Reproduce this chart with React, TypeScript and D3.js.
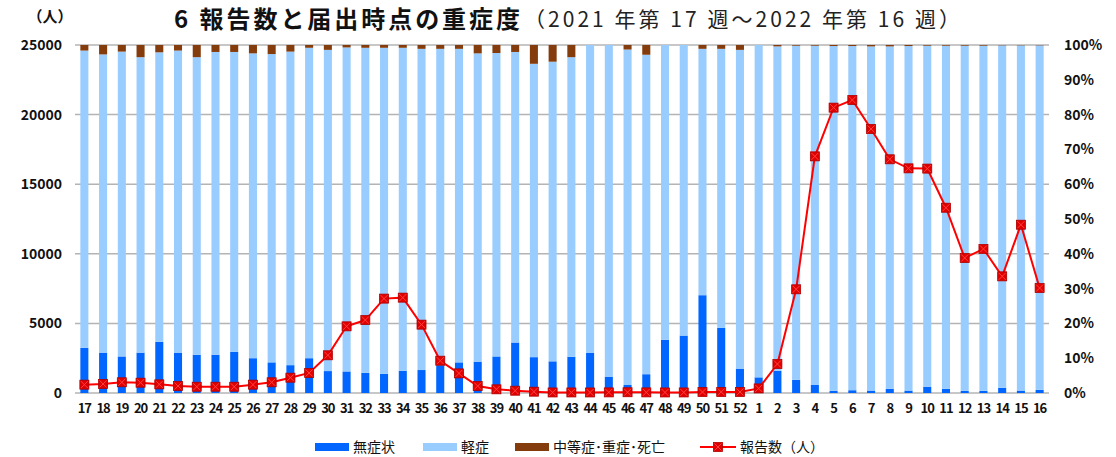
import React from 'react'
import * as d3 from 'd3'

// 週ラベル (2021年第17週〜2022年第16週)
const weeks = [
  '17', '18', '19', '20', '21', '22', '23', '24', '25', '26', '27', '28', '29', '30', '31', '32', '33', '34',
  '35', '36', '37', '38', '39', '40', '41', '42', '43', '44', '45', '46', '47', '48', '49', '50', '51', '52',
  '1', '2', '3', '4', '5', '6', '7', '8', '9', '10', '11', '12', '13', '14', '15', '16',
]

// 割合 (%)
const asymptomatic = [
  13.0, 11.6, 10.5, 11.6, 14.7, 11.6, 11.0, 11.0, 11.8, 10.0, 8.8, 8.0, 10.0, 6.3, 6.2, 5.8, 5.5, 6.4,
  6.6, 8.0, 8.8, 9.0, 10.5, 14.5, 10.3, 9.1, 10.4, 11.5, 4.7, 2.3, 5.4, 15.3, 16.5, 28.1, 18.7, 7.0,
  4.5, 6.4, 3.8, 2.3, 0.6, 0.8, 0.7, 1.2, 0.7, 1.8, 1.2, 0.6, 0.6, 1.5, 0.7, 0.9,
]
const mild = [
  85.4, 85.7, 87.6, 84.9, 83.2, 86.8, 85.5, 87.0, 86.2, 87.6, 88.6, 90.1, 89.2, 92.3, 93.1, 93.4, 93.7, 92.8,
  92.3, 90.9, 90.1, 88.6, 87.2, 83.5, 84.3, 86.1, 86.1, 88.5, 95.3, 96.4, 91.8, 84.7, 83.5, 70.8, 80.2, 91.6,
  95.5, 93.2, 96.0, 97.5, 99.1, 98.9, 98.9, 98.4, 99.0, 98.0, 98.6, 99.2, 99.2, 98.4, 99.2, 99.0,
]
const severe = [
  1.6, 2.7, 1.9, 3.5, 2.1, 1.6, 3.5, 2.0, 2.0, 2.4, 2.6, 1.9, 0.8, 1.4, 0.7, 0.8, 0.8, 0.8,
  1.1, 1.1, 1.1, 2.4, 2.3, 2.0, 5.4, 4.8, 3.5, 0, 0, 1.3, 2.8, 0, 0, 1.1, 1.1, 1.4,
  0, 0.4, 0.2, 0.2, 0.3, 0.3, 0.4, 0.4, 0.3, 0.2, 0.2, 0.2, 0.2, 0.1, 0.1, 0.1,
]

// 報告数 (人)
const reports = [
  600, 650, 770, 740, 620, 500, 450, 450, 450, 600, 770, 1100, 1440, 2710, 4790, 5240, 6780, 6850,
  4910, 2320, 1410, 500, 265, 165, 95, 40, 40, 40, 45, 55, 45, 40, 40, 70, 75, 75,
  330, 2080, 7450, 17000, 20500, 21050, 18970, 16790, 16140, 16120, 13310, 9700, 10350, 8380, 12090, 7540,
]

const leftTicks = [0, 5000, 10000, 15000, 20000, 25000]
const rightTicks = [0, 10, 20, 30, 40, 50, 60, 70, 80, 90, 100]

const keys = ['asym', 'mild', 'severe']
const colors = { asym: '#0066ff', mild: '#99ccff', severe: '#843c0c' }
const legendLabels = { asym: '無症状', mild: '軽症', severe: '中等症･重症･死亡' }

const W = 1116
const H = 457
const margin = { top: 45, right: 67, bottom: 64, left: 75 }
const FONT = '"Noto Sans CJK JP", "Noto Sans", sans-serif'

const Marker = ({ x, y }) => (
  <g transform={`translate(${x},${y})`}>
    <rect x={-4.5} y={-4.5} width={9} height={9} fill="#e00000" stroke="#b00000" strokeWidth={0.8} />
    <path d="M-3.5,-3.5L3.5,3.5M3.5,-3.5L-3.5,3.5" stroke="#ff4040" strokeWidth={1} />
  </g>
)

export default function App() {
  const innerW = W - margin.left - margin.right
  const innerH = H - margin.top - margin.bottom

  const table = weeks.map((w, i) => ({ week: i, asym: asymptomatic[i], mild: mild[i], severe: severe[i] }))
  const series = d3.stack().keys(keys)(table)

  const x = d3.scaleBand().domain(d3.range(weeks.length)).range([0, innerW]).paddingInner(0.57).paddingOuter(0.285)
  const yPct = d3.scaleLinear().domain([0, 100]).range([innerH, 0])
  const yCnt = d3.scaleLinear().domain([0, 25000]).range([innerH, 0])

  const cx = i => x(i) + x.bandwidth() / 2
  const line = d3.line().x((d, i) => cx(i)).y(d => yCnt(d))

  return (
    <svg width={W} height={H} style={{ position: 'absolute', left: 0, top: 0, background: '#fff' }} fontFamily={FONT}>
      {/* 題 */}
      <text x={174} y={28} fontSize={24} fontWeight="bold" fill="#111" textLength={346} lengthAdjust="spacing">6 報告数と届出時点の重症度</text>
      <text x={524} y={27} fontSize={21} fill="#222" textLength={436} lengthAdjust="spacing">（2021 年第 17 週～2022 年第 16 週）</text>
      <text x={50} y={22} fontSize={15} fontWeight="bold" textAnchor="middle" fill="#111">（人）</text>

      <g transform={`translate(${margin.left},${margin.top})`}>
        {leftTicks.map(t => (
          <g key={t}>
            <line x1={0} x2={innerW} y1={yCnt(t)} y2={yCnt(t)} stroke="#b4b4b4" strokeWidth={1.5} />
            <text x={-13} y={yCnt(t)} dy="0.35em" textAnchor="end" fontSize={14} fontWeight="bold" fill="#111">{t}</text>
          </g>
        ))}
        {rightTicks.map(t => (
          <text key={t} x={innerW + 15} y={yPct(t)} dy="0.35em" fontSize={14} fontWeight="bold" fill="#111">{t}%</text>
        ))}

        {series.map(s => (
          <g key={s.key} fill={colors[s.key]}>
            {s.map((d, i) => (
              <rect key={i} x={x(i)} y={yPct(d[1])} width={x.bandwidth()} height={Math.max(0, yPct(d[0]) - yPct(d[1]))} />
            ))}
          </g>
        ))}

        <path d={line(reports)} fill="none" stroke="#ff0000" strokeWidth={2} />
        {reports.map((v, i) => <Marker key={i} x={cx(i)} y={yCnt(v)} />)}

        {weeks.map((w, i) => (
          <text key={i} x={cx(i)} y={innerH + 20} textAnchor="middle" fontSize={13} fontWeight="bold" fill="#111"
            letterSpacing={-1}>{w}</text>
        ))}
      </g>

      {/* 凡例 */}
      <g transform="translate(315,447)" fontSize={14} fill="#111">
        {keys.map((k, i) => {
          const off = [0, 108, 200][i]
          return (
            <g key={k} transform={`translate(${off},0)`}>
              <rect x={0} y={-4} width={34} height={8} fill={colors[k]} />
              <text x={38} y={0} dy="0.35em">{legendLabels[k]}</text>
            </g>
          )
        })}
        <g transform="translate(385,0)">
          <line x1={0} x2={36} y1={0} y2={0} stroke="#ff0000" strokeWidth={2} />
          <Marker x={18} y={0} />
          <text x={40} y={0} dy="0.35em">報告数（人）</text>
        </g>
      </g>
    </svg>
  )
}
